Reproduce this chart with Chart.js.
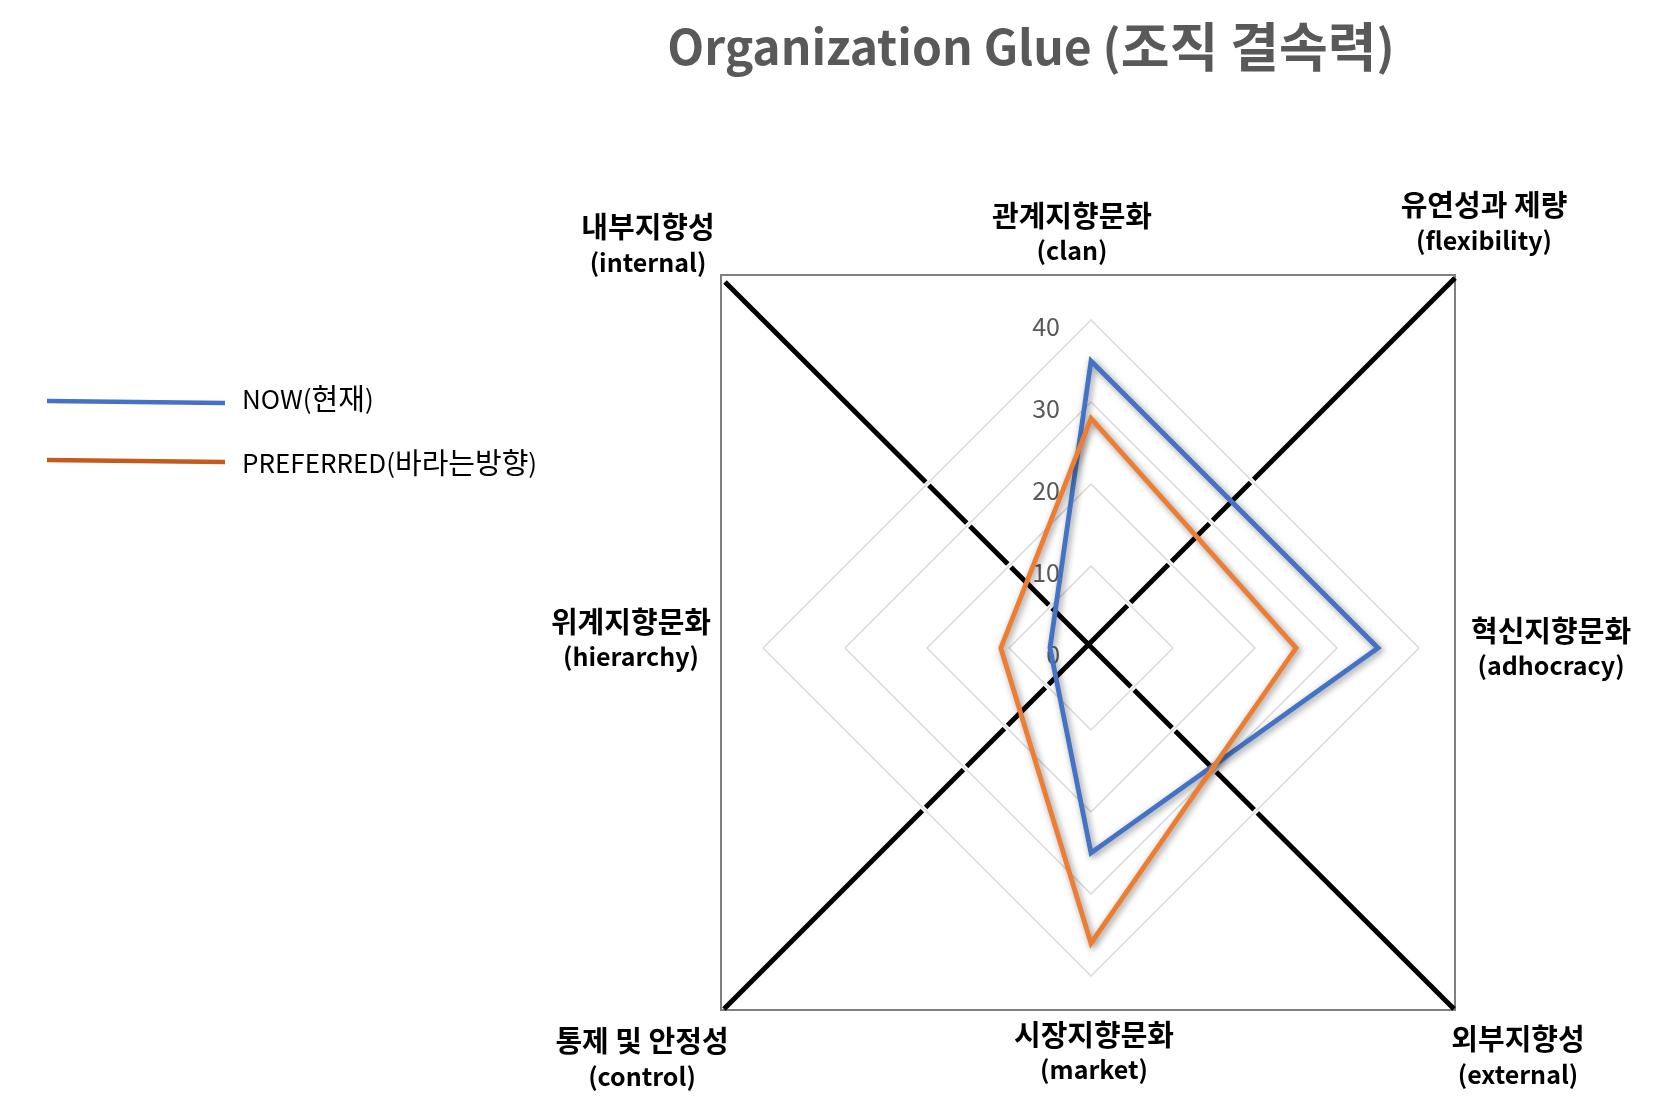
<!DOCTYPE html>
<html><head><meta charset="utf-8">
<script src="https://cdn.jsdelivr.net/npm/chart.js@4.4.1/dist/chart.umd.min.js"></script>
<style>html,body{margin:0;padding:0;background:#fff;overflow:hidden}#wrap{position:absolute;left:0;top:0;width:1662px;height:1112px}</style>
</head><body><div id="wrap"><canvas id="c"></canvas></div>
<script>
// ---- data ----
const titleText = 'Organization Glue (조직 결속력)';
const categories = [['관계지향문화','(clan)'],['혁신지향문화','(adhocracy)'],['시장지향문화','(market)'],['위계지향문화','(hierarchy)']];
const cornerLabels = [['내부지향성','(internal)'],['유연성과 제량','(flexibility)'],['통제 및 안정성','(control)'],['외부지향성','(external)']];
const seriesNames = ['NOW(현재)','PREFERRED(바라는방향)'];
const nowValues = [35, 35, 25, 5];
const preferredValues = [28, 25, 36, 11];
const tickValues = [0, 10, 20, 30, 40];

// ---- styles ----
const lineColors = ['#4472C4', '#ED7D31'];
const legendColors = ['#4472C4', '#C55A1E'];
const FONT = '"Noto Sans CJK KR", "Noto Sans", sans-serif';
const labelNudge = [[-19, 0], [0, 0], [3, -11], [0, -9]];

function splitRuns(t) {
  const out = []; let cur = '', h = null;
  for (const ch of t) {
    const isH = /[\uAC00-\uD7A3]/.test(ch) || (ch === ' ' && h === true);
    if (h === null) h = isH;
    if (isH !== h) { out.push([cur, h]); cur = ''; h = isH; }
    cur += ch;
  }
  if (cur) out.push([cur, h]);
  return out;
}
function mixedWidth(ctx, t, st) {
  let w = 0;
  splitRuns(t).forEach(([s, h]) => {
    ctx.font = st.weight + ' ' + (h ? st.hsize : st.size) + 'px ' + FONT;
    w += ctx.measureText(s).width;
  });
  return w;
}
function drawMixed(ctx, t, x, y, st) {
  const w = mixedWidth(ctx, t, st);
  let sx = st.align === 'center' ? x - w / 2 : (st.align === 'right' ? x - w : x);
  ctx.textAlign = 'left'; ctx.textBaseline = 'middle';
  splitRuns(t).forEach(([s, h]) => {
    ctx.font = st.weight + ' ' + (h ? st.hsize : st.size) + 'px ' + FONT;
    ctx.fillText(s, sx, y);
    sx += ctx.measureText(s).width;
  });
}

const deco = {
  id: 'deco',
  beforeDraw(chart) {
    const s = chart.scales.r, ctx = chart.ctx;
    const cx = s.xCenter, cy = s.yCenter;
    ctx.save();
    ctx.strokeStyle = '#7F7F7F'; ctx.lineWidth = 2;
    ctx.strokeRect(cx - 370, cy - 373, 734, 735);
    ctx.strokeStyle = '#000'; ctx.lineWidth = 5; ctx.lineCap = 'butt';
    ctx.beginPath();
    ctx.moveTo(cx - 366, cy - 366); ctx.lineTo(cx + 363, cy + 361);
    ctx.moveTo(cx - 367, cy + 361); ctx.lineTo(cx + 364, cy - 370);
    ctx.stroke();
    ctx.restore();
  },
  beforeDatasetsDraw(chart) {
    const s = chart.scales.r, ctx = chart.ctx;
    const n = s._pointLabels.length;
    ctx.save();
    tickValues.forEach(v => {
      if (v === 0) return;
      const d = s.getDistanceFromCenterForValue(v);
      ctx.beginPath();
      for (let i = 0; i < n; i++) {
        const p = s.getPointPosition(i, d);
        if (i === 0) ctx.moveTo(p.x, p.y); else ctx.lineTo(p.x, p.y);
      }
      ctx.closePath();
      ctx.strokeStyle = '#FFFFFF'; ctx.lineWidth = 4.5; ctx.stroke();
      ctx.strokeStyle = '#D9D9D9'; ctx.lineWidth = 1.5; ctx.stroke();
    });
    ctx.fillStyle = '#595959';
    ctx.font = '25px ' + FONT;
    ctx.textAlign = 'right'; ctx.textBaseline = 'middle';
    tickValues.forEach(v => {
      const p = s.getPointPosition(0, s.getDistanceFromCenterForValue(v));
      ctx.fillText(String(v), p.x - 31, p.y + 6);
    });
    ctx.restore();
  },
  beforeDatasetDraw(chart) {
    const ctx = chart.ctx;
    ctx.save();
    ctx.shadowColor = 'rgba(0,0,0,0.45)';
    ctx.shadowBlur = 7; ctx.shadowOffsetX = 2; ctx.shadowOffsetY = 2;
  },
  afterDatasetDraw(chart) { chart.ctx.restore(); },
  afterDraw(chart) {
    const s = chart.scales.r, ctx = chart.ctx;
    const cx = s.xCenter, cy = s.yCenter;
    ctx.save();
    // title
    ctx.fillStyle = '#595959';
    drawMixed(ctx, titleText, 1031, 47, { weight: 'bold', size: 48, hsize: 53, align: 'center' });
    const lab = { weight: 'bold', size: 25, hsize: 29, align: 'center' };
    // point labels through the scale
    const LH = 35;
    ctx.fillStyle = '#000';
    categories.forEach((lines, i) => {
      const p = s.getPointPosition(i, s.drawingArea + 52);
      const a = s.getIndexAngle(i);
      const sx = Math.sin(a), cyy = Math.cos(a);
      const w = Math.max(...lines.map(t => mixedWidth(ctx, t, lab)));
      const x = Math.abs(sx) < 0.1 ? p.x : (sx > 0 ? p.x + w / 2 : p.x - w / 2);
      const h = lines.length * LH;
      let y0;
      if (cyy > 0.5) y0 = p.y - h; else if (cyy < -0.5) y0 = p.y; else y0 = p.y - h / 2;
      lines.forEach((t, k) => drawMixed(ctx, t, x + labelNudge[i][0], y0 + LH * k + LH / 2 + labelNudge[i][1], lab));
    });
    // corner labels
    const corners = [[cx - 443, cy - 421], [cx + 393, cy - 443], [cx - 449, cy + 393], [cx + 427, cy + 391]];
    cornerLabels.forEach((lines, i) => {
      lines.forEach((t, k) => drawMixed(ctx, t, corners[i][0], corners[i][1] + LH * k, lab));
    });
    // legend
    chart.data.datasets.forEach((ds, i) => {
      const y = 401 + i * 59;
      ctx.strokeStyle = legendColors[i]; ctx.lineWidth = 4.5;
      ctx.beginPath(); ctx.moveTo(47, y); ctx.lineTo(225, y + 2); ctx.stroke();
      ctx.fillStyle = '#000';
      drawMixed(ctx, ds.label, 242, y - 2 + i * 5, { weight: 'normal', size: 26, hsize: 29, align: 'left' });
    });
    ctx.restore();
  }
};

new Chart(document.getElementById('c'), {
  type: 'radar',
  data: {
    labels: categories,
    datasets: [
      { label: seriesNames[0], data: nowValues, borderColor: lineColors[0], backgroundColor: lineColors[0],
        borderWidth: 4.8, pointRadius: 0, fill: false, tension: 0, borderJoinStyle: 'miter', order: 2 },
      { label: seriesNames[1], data: preferredValues, borderColor: lineColors[1], backgroundColor: lineColors[1],
        borderWidth: 4.8, pointRadius: 0, fill: false, tension: 0, borderJoinStyle: 'miter', order: 1 }
    ]
  },
  options: {
    responsive: true, maintainAspectRatio: false, animation: false,
    layout: { padding: { left: 763, right: 243, top: 320, bottom: 136 } },
    plugins: { legend: { display: false }, title: { display: false }, tooltip: { enabled: false } },
    scales: {
      r: {
        min: 0, max: 40, startAngle: 0,
        ticks: { display: false, stepSize: 10 },
        grid: { color: '#D9D9D9', lineWidth: 1.5 },
        angleLines: { display: false },
        pointLabels: { display: false }
      }
    }
  },
  plugins: [deco]
});
</script></body></html>
